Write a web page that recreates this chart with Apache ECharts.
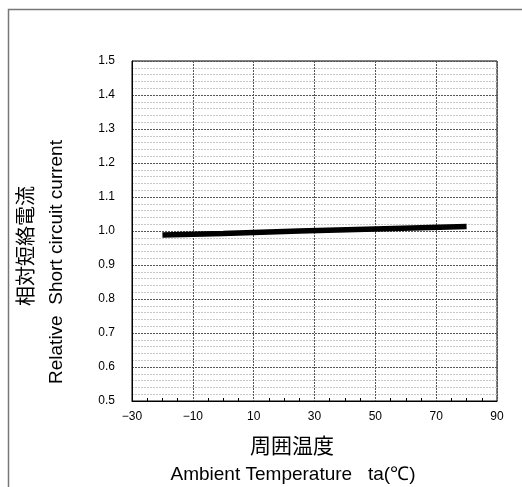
<!DOCTYPE html>
<html>
<head>
<meta charset="utf-8">
<script src="https://cdn.jsdelivr.net/npm/echarts@6/dist/echarts.min.js"></script>
<style>
html,body{margin:0;padding:0;background:#fff;}
#c{width:522px;height:487px;}
</style>
</head>
<body>
<div id="c"></div>
<script>
// Data
const temperatures = [-20, 0, 25, 50, 80];          // ambient temperature (°C)
const relativeCurrent = [0.988, 0.993, 1.000, 1.006, 1.013]; // relative short circuit current
const xTicks = [-30, -10, 10, 30, 50, 70, 90];
const yTicks = [0.5, 0.6, 0.7, 0.8, 0.9, 1.0, 1.1, 1.2, 1.3, 1.4, 1.5];

const seriesData = temperatures.map((t, i) => [t, relativeCurrent[i]]);

const chart = echarts.init(document.getElementById('c'), null, {renderer: 'canvas'});
const labelFont = '"Liberation Sans", Arial, sans-serif';
const cjkFont = '"Noto Sans CJK JP", sans-serif';

chart.setOption({
  animation: false,
  backgroundColor: '#fff',
  grid: {left: 132, top: 61, width: 365, height: 340, show: true, borderColor: '#000', borderWidth: 1, backgroundColor: 'transparent'},
  xAxis: {
    type: 'value', min: xTicks[0], max: xTicks[xTicks.length - 1], interval: 20,
    axisLine: {show: true, onZero: false, lineStyle: {color: '#000', width: 1}},
    axisTick: {show: false, inside: true},
    minorTick: {show: true, splitNumber: 4, length: 3, lineStyle: {color: '#000'}},
    axisLabel: {color: '#000', fontSize: 12, fontFamily: labelFont, margin: 10,
      formatter: v => (v < 0 ? '\u2212' + Math.abs(v) : String(v))},
    splitLine: {show: true, lineStyle: {color: '#555', width: 1, type: [2, 1]}}
  },
  yAxis: {
    type: 'value', min: yTicks[0], max: yTicks[yTicks.length - 1], interval: 0.1,
    axisLine: {show: true, onZero: false, lineStyle: {color: '#000', width: 1}},
    axisTick: {show: false},
    axisLabel: {color: '#000', fontSize: 12, fontFamily: labelFont, margin: 17,
      formatter: v => v.toFixed(1)},
    splitLine: {show: true, lineStyle: {color: '#555', width: 1, type: [2, 1]}},
    minorTick: {show: false, splitNumber: 5},
    minorSplitLine: {show: true, lineStyle: {color: '#c8c8c8', width: 1, type: [2, 1]}}
  },
  series: [{
    type: 'line', data: seriesData, symbol: 'none',
    lineStyle: {color: '#000', width: 5.5, cap: 'butt'}, z: 5
  }],
  graphic: [
    {type: 'rect', shape: {x: 8.5, y: 9.5, width: 600, height: 600}, style: {fill: 'none', stroke: '#777', lineWidth: 1.5}, silent: true, z: -1},
    {type: 'text', x: 292, y: 445, style: {text: '周囲温度', font: '21px ' + cjkFont, fill: '#000', textAlign: 'center', textVerticalAlign: 'middle'}},
    {type: 'text', x: 293, y: 475, style: {text: 'Ambient Temperature   ta(℃)', font: '19px ' + labelFont, fill: '#000', textAlign: 'center', textVerticalAlign: 'middle'}},
    {type: 'text', x: 25, y: 246, rotation: Math.PI / 2, style: {text: '相対短絡電流', font: '20px ' + cjkFont, fill: '#000', textAlign: 'center', textVerticalAlign: 'middle'}},
    {type: 'text', x: 57, y: 262, rotation: Math.PI / 2, style: {text: 'Relative  Short circuit current', font: '19px ' + labelFont, fill: '#000', textAlign: 'center', textVerticalAlign: 'middle'}}
  ]
});
</script>
</body>
</html>
